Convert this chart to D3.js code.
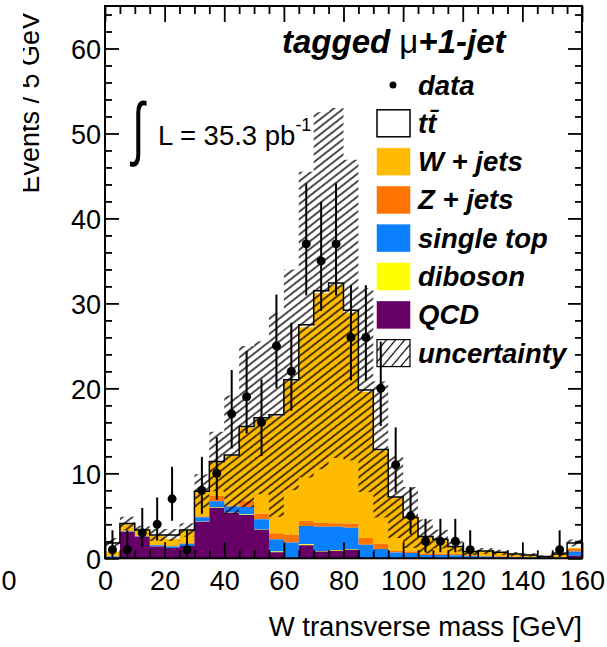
<!DOCTYPE html>
<html>
<head>
<meta charset="utf-8">
<script src="https://cdn.jsdelivr.net/npm/d3@7"></script>
<style>
  body { margin: 0; background: #fff; }
  svg { display: block; }
  text { font-family: "Liberation Sans", Arial, Helvetica, sans-serif; fill: #000; }
</style>
</head>
<body>
<svg id="chart" width="607" height="647"></svg>
<script>
// Lower edges of the 5 GeV bins in W transverse mass
const binLow = [0, 5, 10, 15, 20, 25, 30, 35, 40, 45, 50, 55, 60, 65, 70, 75,
                80, 85, 90, 95, 100, 105, 110, 115, 120, 125, 130, 135, 140, 145, 150, 155];
const binWidth = 5;

// Expected events per bin, one array per process (stacked bottom to top)
const qcd       = [0, 3.1, 2.55, 1.4, 1.2, 1.45, 4.3, 5.95, 5.35, 5.1, 3.35, 0.7, 0, 1.55, 0.8, 0.9,
                   1.0, 0, 0, 0, 0, 0, 0, 0, 0, 0, 0, 0, 0, 0, 0, 0.3];
const diboson   = [0, 0, 0, 0, 0, 0, 0.03, 0.05, 0.05, 0.05, 0.05, 0.1, 0.03, 0.1, 0.06, 0.08,
                   0.06, 0.03, 0.02, 0.01, 0.01, 0, 0, 0, 0, 0, 0, 0, 0, 0, 0, 0];
const singleTop = [0.2, 0.05, 0.05, 0.13, 0.19, 0.27, 0.5, 0.7, 0.7, 0.9, 1.2, 1.45, 1.84, 2.15, 2.86, 2.74,
                   2.54, 1.56, 1.06, 0.66, 0.6, 0.4, 0.4, 0.35, 0.25, 0.2, 0.15, 0.12, 0.1, 0.05, 0.1, 0.5];
const zJets     = [0.05, 0.05, 0.05, 0.05, 0.05, 0.05, 0.08, 0.67, 0.08, 0.7, 0.65, 0.7, 0.9, 0.6, 0.47, 0.4,
                   0.5, 0.8, 0.62, 0.2, 0.18, 0.15, 0.15, 0.15, 0.1, 0.08, 0.08, 0.06, 0.05, 0.04, 0.06, 0.3];
const wJets     = [0.55, 0.8, 0.63, 1.09, 0.85, 1.51, 2.93, 3.98, 5.87, 8.65, 11.15, 13.75, 18.03, 22.8, 27.0, 27.98,
                   24.8, 17.21, 10.95, 6.23, 3.96, 1.96, 1.65, 0.87, 0.43, 0.55, 0.45, 0.31, 0.24, 0.1, 0.33, 0.1];
const ttbar     = [1.0, 0.1, 0.05, 0.07, 0.45, 0.05, 0.06, 0.05, 0.1, 0.1, 0.15, 0.2, 0.2, 0.3, 0.3, 0.3,
                   0.3, 0.2, 0.15, 0.1, 0.05, 0.05, 0.05, 0.03, 0.02, 0.02, 0.02, 0.01, 0.01, 0.01, 0.01, 0.6];
// Systematic uncertainty on the total expectation (symmetric band)
const uncertainty = [0.6, 0.8, 0.5, 0.7, 0.7, 0.8, 2.0, 3.5, 7.0, 9.5, 9.0, 12.0, 13.0, 18.0, 21.0, 20.6,
                     17.7, 12.0, 8.0, 4.8, 3.6, 2.0, 1.1, 0.6, 0.4, 0.35, 0.3, 0.25, 0.2, 0.15, 0.25, 0.4];

// Observed counts with asymmetric Poisson errors
const dataCounts  = [1, 1, 3, 4, 7, 1, 8, 10, 17, 19, 16, 25, 22, 37, 35, 37,
                     26, 26, 20, 11, 5, 2, 2, 2, 1, 0, 0, 0, 0, 0, 1, 0];
const dataErrLow  = [0.83, 0.83, 1.63, 1.91, 2.58, 0.83, 2.77, 3.11, 4.08, 4.32, 3.96, 4.96, 4.65, 6.06, 5.89, 6.06,
                     5.06, 5.06, 4.43, 3.27, 2.16, 1.29, 1.29, 1.29, 0.83, 0, 0, 0, 0, 0, 0.83, 0];
const dataErrHigh = [2.30, 2.30, 2.92, 3.16, 3.77, 2.30, 3.94, 4.26, 5.16, 5.39, 5.04, 6.04, 5.72, 7.14, 6.96, 7.14,
                     6.14, 6.14, 5.50, 4.40, 3.38, 2.64, 2.64, 2.64, 2.30, 0, 0, 0, 0, 0, 2.30, 0];

const processKeys   = ["qcd", "diboson", "singleTop", "zJets", "wJets", "ttbar"];
const processSeries = { qcd, diboson, singleTop, zJets, wJets, ttbar };
const processColors = { qcd: "#660066", diboson: "#ffff00", singleTop: "#0a80ff",
                        zJets: "#ff7400", wJets: "#ffbb00", ttbar: "#ffffff" };

const xTickMajor = [0, 20, 40, 60, 80, 100, 120, 140, 160];
const yTickMajor = [0, 10, 20, 30, 40, 50, 60];

const legendEntries = [
  { label: "data", kind: "marker" },
  { label: "tt", kind: "box", color: "#ffffff", bar: true },
  { label: "W + jets", kind: "box", color: processColors.wJets },
  { label: "Z + jets", kind: "box", color: processColors.zJets },
  { label: "single top", kind: "box", color: processColors.singleTop },
  { label: "diboson", kind: "box", color: processColors.diboson },
  { label: "QCD", kind: "box", color: processColors.qcd },
  { label: "uncertainty", kind: "hatch" }
];

// ---- layout ----
const frame = { left: 105, right: 582, top: 6, bottom: 558.3 };
const svg = d3.select("#chart");

const x = d3.scaleLinear().domain([0, 160]).range([frame.left, frame.right]);
const y = d3.scaleLinear().domain([0, 65]).range([frame.bottom, frame.top]);

const defs = svg.append("defs");
defs.append("pattern")
  .attr("id", "hatch").attr("patternUnits", "userSpaceOnUse")
  .attr("width", 10).attr("height", 6)
  .attr("patternTransform", "rotate(-38)")
  .append("line").attr("x1", 0).attr("x2", 10).attr("y1", 3).attr("y2", 3)
  .attr("stroke", "#000").attr("stroke-width", 1.4);
defs.append("pattern")
  .attr("id", "hatchLegend").attr("patternUnits", "userSpaceOnUse")
  .attr("width", 10).attr("height", 7)
  .attr("patternTransform", "rotate(-50)")
  .append("line").attr("x1", 0).attr("x2", 10).attr("y1", 3.5).attr("y2", 3.5)
  .attr("stroke", "#000").attr("stroke-width", 1.2);
defs.append("clipPath").attr("id", "ylabClip")
  .append("rect").attr("x", 23).attr("y", 0).attr("width", 600).attr("height", 647);
defs.append("clipPath").attr("id", "plotClip")
  .append("rect").attr("x", frame.left).attr("y", frame.top)
  .attr("width", frame.right - frame.left).attr("height", frame.bottom - frame.top);

// ---- stacked histograms ----
const table = binLow.map((lo, i) => {
  const row = { lo };
  processKeys.forEach(k => { row[k] = processSeries[k][i]; });
  return row;
});
const stacked = d3.stack().keys(processKeys)(table);

// step points: each bin contributes its two edges
function stepPoints(getLow, getHigh) {
  const pts = [];
  binLow.forEach((lo, i) => {
    pts.push({ xv: lo, y0: getLow(i), y1: getHigh(i) });
    pts.push({ xv: lo + binWidth, y0: getLow(i), y1: getHigh(i) });
  });
  return pts;
}
const stepArea = d3.area().x(d => x(d.xv)).y0(d => y(d.y0)).y1(d => y(d.y1));

const plot = svg.append("g").attr("clip-path", "url(#plotClip)");

// draw from top layer down so each process paints its own slab
stacked.slice().reverse().forEach(layer => {
  plot.append("path")
    .datum(stepPoints(i => layer[i][0], i => layer[i][1]))
    .attr("d", stepArea)
    .attr("fill", processColors[layer.key])
    .attr("stroke", "none");
});

// outline of the total expectation (tt-bar line style)
const totals = stacked[stacked.length - 1].map(d => d[1]);
const outlinePts = [{ xv: 0, v: 0 }];
binLow.forEach((lo, i) => {
  outlinePts.push({ xv: lo, v: totals[i] });
  outlinePts.push({ xv: lo + binWidth, v: totals[i] });
});
outlinePts.push({ xv: 160, v: 0 });
plot.append("path")
  .datum(outlinePts)
  .attr("d", d3.line().x(d => x(d.xv)).y(d => y(d.v)))
  .attr("fill", "none").attr("stroke", "#000").attr("stroke-width", 1.5);

// uncertainty band
plot.append("path")
  .datum(stepPoints(i => Math.max(0, totals[i] - uncertainty[i]), i => totals[i] + uncertainty[i]))
  .attr("d", stepArea)
  .attr("fill", "url(#hatch)").attr("stroke", "none");

// ---- data points ----
const dataPts = binLow.map((lo, i) => ({
  xc: lo + binWidth / 2, n: dataCounts[i], lo: dataErrLow[i], hi: dataErrHigh[i]
})).filter(d => d.n > 0);

const dataG = svg.append("g");
dataG.selectAll("line.err").data(dataPts).join("line")
  .attr("class", "err")
  .attr("x1", d => x(d.xc)).attr("x2", d => x(d.xc))
  .attr("y1", d => y(d.n - d.lo)).attr("y2", d => y(d.n + d.hi))
  .attr("stroke", "#000").attr("stroke-width", 2);
dataG.selectAll("circle").data(dataPts).join("circle")
  .attr("cx", d => x(d.xc)).attr("cy", d => y(d.n)).attr("r", 4.5)
  .attr("fill", "#000");

// ---- axes (ticks pointing into the frame) ----
const tickFont = 27;
function styleAxis(g) {
  g.select(".domain").remove();
  g.selectAll(".tick line").attr("stroke", "#000").attr("stroke-width", 1.8);
  g.selectAll(".tick text").attr("font-size", tickFont)
    .attr("font-family", "'Liberation Sans', Arial, sans-serif").attr("fill", "#000");
}
const xMinor = d3.range(0, 161, 5).filter(v => v % 20 !== 0);
const yMinor = d3.range(0, 65, 2).filter(v => v % 10 !== 0);

svg.append("g").attr("transform", `translate(0,${frame.bottom})`)
  .call(d3.axisBottom(x).tickValues(xTickMajor).tickSize(-16).tickPadding(12.5).tickFormat(d3.format("d")))
  .call(styleAxis);
svg.append("g").attr("transform", `translate(0,${frame.bottom})`)
  .call(d3.axisBottom(x).tickValues(xMinor).tickSize(-8).tickFormat(""))
  .call(styleAxis);
svg.append("g").attr("transform", `translate(0,${frame.top})`)
  .call(d3.axisTop(x).tickValues(xTickMajor).tickSize(-16).tickFormat(""))
  .call(styleAxis);
svg.append("g").attr("transform", `translate(0,${frame.top})`)
  .call(d3.axisTop(x).tickValues(xMinor).tickSize(-8).tickFormat(""))
  .call(styleAxis);

svg.append("g").attr("transform", `translate(${frame.left},0)`)
  .call(d3.axisLeft(y).tickValues(yTickMajor).tickSize(-14).tickPadding(4).tickFormat(d3.format("d")))
  .call(styleAxis)
  .call(g => g.selectAll(".tick text").attr("dy", "0.36em"));
svg.append("g").attr("transform", `translate(${frame.left},0)`)
  .call(d3.axisLeft(y).tickValues(yMinor).tickSize(-7).tickFormat(""))
  .call(styleAxis);
svg.append("g").attr("transform", `translate(${frame.right},0)`)
  .call(d3.axisRight(y).tickValues(yTickMajor).tickSize(-14).tickFormat(""))
  .call(styleAxis);
svg.append("g").attr("transform", `translate(${frame.right},0)`)
  .call(d3.axisRight(y).tickValues(yMinor).tickSize(-7).tickFormat(""))
  .call(styleAxis);

svg.append("rect")
  .attr("x", frame.left).attr("y", frame.top)
  .attr("width", frame.right - frame.left).attr("height", frame.bottom - frame.top)
  .attr("fill", "none").attr("stroke", "#000").attr("stroke-width", 2);

// axis titles
svg.append("text")
  .attr("x", frame.right).attr("y", 636)
  .attr("text-anchor", "end").attr("font-size", 27.5)
  .text("W transverse mass [GeV]");
svg.append("g").attr("clip-path", "url(#ylabClip)")
  .append("text")
  .attr("transform", "translate(38.5,12) rotate(-90)")
  .attr("text-anchor", "end").attr("font-size", 27)
  .text("Events / 5 GeV");
svg.append("text")
  .attr("x", 9).attr("y", 590).attr("text-anchor", "middle").attr("font-size", tickFont)
  .text("0");

// ---- title & luminosity ----
const title = svg.append("text")
  .attr("x", 282).attr("y", 53).attr("font-size", 33)
  .attr("font-weight", "bold").attr("font-style", "italic");
title.append("tspan").text("tagged ");
title.append("tspan").attr("font-weight", "normal").attr("font-style", "normal").text("μ");
title.append("tspan").text("+1-jet");

// thin, tall integral sign
svg.append("text")
  .attr("transform", "translate(132,152) scale(0.8,1.25)")
  .attr("font-size", 56)
  .attr("font-family", "'Liberation Sans', Arial, sans-serif")
  .attr("font-weight", "normal")
  .text("∫");
const lumi = svg.append("text")
  .attr("x", 158).attr("y", 145).attr("font-size", 27.5);
lumi.append("tspan").text("L = 35.3 pb");
lumi.append("tspan").attr("font-size", 18).attr("dy", -14).text("-1");

// ---- legend ----
const legendTop = 85, legendStep = 38.3;
const leg = svg.append("g");
legendEntries.forEach((e, i) => {
  const cy = legendTop + i * legendStep;
  if (e.kind === "marker") {
    leg.append("circle").attr("cx", 393).attr("cy", cy).attr("r", 3.5).attr("fill", "#000");
  } else if (e.kind === "box") {
    leg.append("rect").attr("x", 377).attr("y", cy - 13.5).attr("width", 33).attr("height", 27)
      .attr("fill", e.color)
      .attr("stroke", e.color === "#ffffff" ? "#000" : e.color)
      .attr("stroke-width", e.color === "#ffffff" ? 1.5 : 0.5);
  } else {
    leg.append("rect").attr("x", 377).attr("y", cy - 13.5).attr("width", 33).attr("height", 27)
      .attr("fill", "url(#hatchLegend)").attr("stroke", "#000").attr("stroke-width", 1.2);
  }
  const t = leg.append("text")
    .attr("x", 418).attr("y", cy + 9.5)
    .attr("font-size", 27.5).attr("font-weight", "bold").attr("font-style", "italic");
  if (e.bar) {
    t.append("tspan").text("t");
    t.append("tspan").text("t\u0304");
  } else {
    t.text(e.label);
  }
});
</script>
</body>
</html>
